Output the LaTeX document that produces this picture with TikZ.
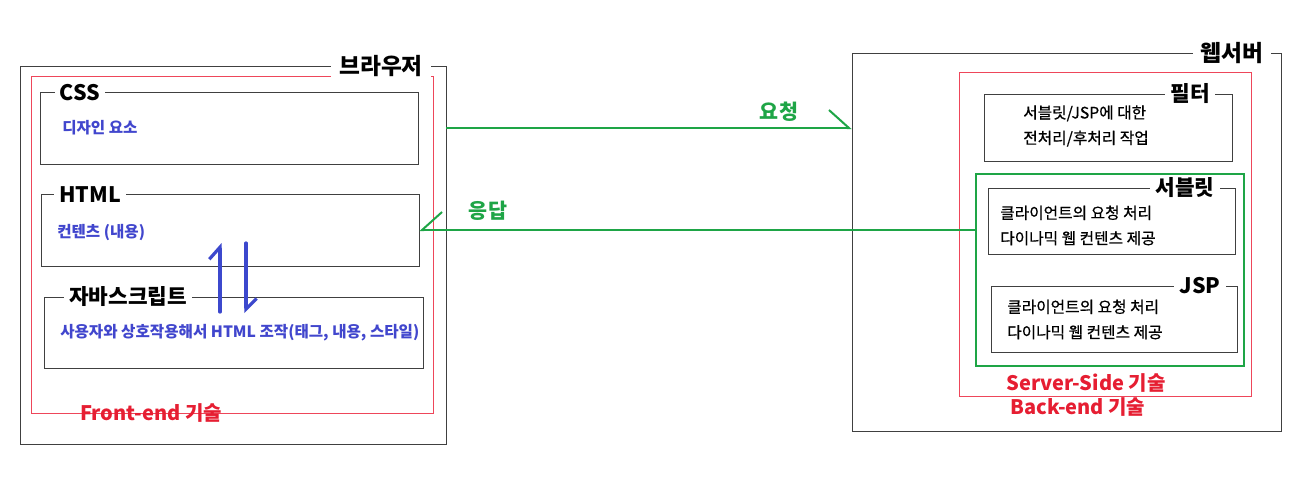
\documentclass[tikz,border=0pt]{standalone}
\usepackage{fontspec}
\setmainfont{Noto Sans CJK KR}
\newfontfamily\notefont[FakeBold=0.7]{Noto Sans CJK KR}
\usetikzlibrary{arrows.meta, positioning, fit}

\definecolor{lblred}{RGB}{230,30,50}
\definecolor{areared}{RGB}{238,70,90}
\definecolor{flowgreen}{RGB}{30,165,70}
\definecolor{txtblue}{RGB}{65,70,205}
\definecolor{penblue}{RGB}{60,72,205}

\begin{document}
\begin{tikzpicture}[x=0.75pt, y=-0.75pt,
  frame/.style={draw=black!75, line width=0.65pt, inner sep=0pt},
  area/.style={draw=areared, line width=0.6pt, inner sep=0pt},
  grp/.style={draw=flowgreen, line width=1.7pt, inner sep=0pt},
  big/.style={fill=white, inner xsep=6pt, inner ysep=1pt, font=\fontsize{17}{19}\selectfont\bfseries},
  ttl/.style={fill=white, inner xsep=4pt, inner ysep=1pt, font=\fontsize{16}{18}\selectfont\bfseries},
  desc/.style={anchor=west, inner sep=0pt, text=txtblue, font=\fontsize{11.7}{14}\selectfont\bfseries},
  note/.style={anchor=west, inner sep=0pt, align=left, font=\notefont\fontsize{11.8}{19}\selectfont},
  tech/.style={text=lblred, inner sep=0pt, font=\fontsize{15}{17}\selectfont\bfseries},
  flow/.style={draw=flowgreen, line width=1.5pt},
  lbl/.style={text=flowgreen, inner sep=0pt, font=\fontsize{15.5}{17}\selectfont\bfseries},
  pen/.style={draw=penblue, line width=2.4pt, line cap=round}
]
\fill[white] (0,0) rectangle (1303,476);
\useasboundingbox (0,0) rectangle (1303,476);

% 브라우저
\node[frame, fit={(20,66) (446,444)}] (browser) {};
\node[area, fit={(31,76) (433,413)}] (front) {};
\node[frame, fit={(40,92) (418,164)}] (css) {};
\node[frame, fit={(41,194) (419,266)}] (html) {};
\node[frame, fit={(44,297) (423,368)}] (js) {};

\node[big] (browser-t) at (381,66) {브라우저};
\node[ttl] (css-t) at (80,93) {CSS};
\node[ttl] (html-t) at (90,195) {HTML};
\node[ttl] (js-t) at (128,297) {자바스크립트};

\node[desc] (css-d) at (62,128) {디자인 요소};
\node[desc] (html-d) at (57,233) {컨텐츠 (내용)};
\node[desc] (js-d) at (60,333) {사용자와 상호작용해서 HTML 조작(태그, 내용, 스타일)};

\node[tech] (front-l) at (151,413) {Front-end 기술};

% HTML <-> 자바스크립트
\coordinate (up-s) at (220,312);
\coordinate (up-e) at (220,243);
\coordinate (dn-s) at (246,243);
\coordinate (dn-e) at (246,313);
\draw[pen, -{Straight Barb[left, length=9pt, width=16pt]}] (up-s) -- (up-e);
\draw[pen, -{Straight Barb[left, length=8pt, width=16pt]}] (dn-s) -- (dn-e);

% 웹서버
\node[frame, fit={(852,53) (1281,431)}] (server) {};
\node[area, fit={(959,72) (1251,396)}] (back) {};
\node[frame, fit={(984,94) (1232,161)}] (filter) {};
\node[grp, fit={(976,174) (1244,366)}] (servside) {};
\node[frame, fit={(988,188) (1235,254)}] (servlet) {};
\node[frame, fit={(991,286) (1237,352)}] (jsp) {};

\node[big] (server-t) at (1232,53) {웹서버};
\node[ttl] (filter-t) at (1190,94) {필터};
\node[ttl] (servlet-t) at (1185,188) {서블릿};
\node[ttl] (jsp-t) at (1200,286) {JSP};

\node[note] (filter-d) at (1023,126) {서블릿/JSP에 대한\\전처리/후처리 작업};
\node[note] (servlet-d) at (1000,225.5) {클라이언트의 요청 처리\\다이나믹 웹 컨텐츠 제공};
\node[note] (jsp-d) at (1007,319.5) {클라이언트의 요청 처리\\다이나믹 웹 컨텐츠 제공};

\node[tech] (servside-l) at (1086,383) {Server-Side 기술};
\node[tech] (back-l) at (1078,407) {Back-end 기술};

% 요청 / 응답
\draw[flow, -{Straight Barb[left, length=15pt, width=27pt]}] (css.east -| browser.east) -- (css.east -| server.west);
\draw[flow, -{Straight Barb[right, length=15pt, width=27pt]}] (html.east -| servside.west) -- (html.east);
\node[lbl] (req-l) at (779,112) {요청};
\node[lbl] (res-l) at (488,211) {응답};

\end{tikzpicture}
\end{document}
